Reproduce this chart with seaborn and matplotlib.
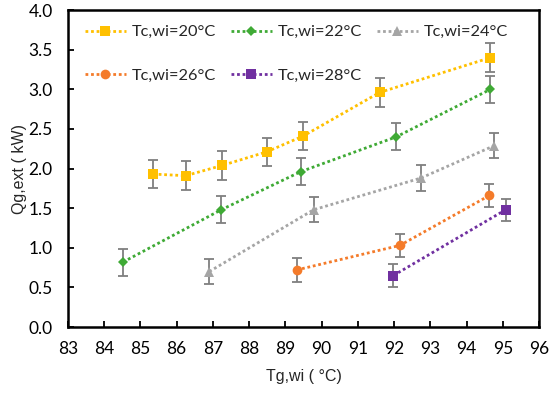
import numpy as np
import pandas as pd
import matplotlib
matplotlib.use("Agg")
import matplotlib.pyplot as plt
import seaborn as sns

# data
labels = ["Tc,wi=20°C", "Tc,wi=22°C", "Tc,wi=24°C", "Tc,wi=26°C", "Tc,wi=28°C"]

tg_20 = [85.35, 86.25, 87.26, 88.48, 89.49, 91.60, 94.66]
qg_20 = [1.93, 1.91, 2.04, 2.21, 2.41, 2.96, 3.40]
tg_22 = [84.52, 87.23, 89.42, 92.06, 94.66]
qg_22 = [0.82, 1.48, 1.96, 2.40, 3.00]
tg_24 = [86.90, 89.78, 92.74, 94.77]
qg_24 = [0.70, 1.48, 1.88, 2.29]
tg_26 = [89.31, 92.16, 94.63]
qg_26 = [0.72, 1.03, 1.66]
tg_28 = [91.98, 95.08]
qg_28 = [0.65, 1.48]
err = [0.18, 0.17, 0.16, 0.15, 0.14]

xticks = list(range(83, 97))
yticks = [0.0, 0.5, 1.0, 1.5, 2.0, 2.5, 3.0, 3.5, 4.0]

colors = ["#FFC000", "#3FAA35", "#A5A5A5", "#F47B2A", "#7030A0"]
markers = ["s", "D", "^", "o", "s"]
msizes = [7, 5, 7, 7, 7]

series = [(tg_20, qg_20), (tg_22, qg_22), (tg_24, qg_24), (tg_26, qg_26), (tg_28, qg_28)]

sns.set_style("white")
plt.rcParams["font.family"] = ["Lato", "DejaVu Sans"]

fig = plt.figure(figsize=(5.5, 3.94), dpi=100)
ax = fig.add_axes([0.1236, 0.170, 0.8564, 0.8044])

for i, (x, y) in enumerate(series):
    df = pd.DataFrame({"x": x, "y": y})
    ax.errorbar(df["x"], df["y"], yerr=err[i], fmt="none", ecolor="#7F7F7F",
                elinewidth=1.3, capsize=3.5, capthick=1.3, zorder=2)
    sns.lineplot(data=df, x="x", y="y", ax=ax, color=colors[i], marker=markers[i],
                 markersize=msizes[i], markeredgewidth=0, linestyle=(0, (1, 1)),
                 linewidth=2, zorder=3, sort=False, label=labels[i])

h, l = ax.get_legend_handles_labels()
order = [0, 3, 1, 4, 2]
ax.legend([h[k] for k in order], [l[k] for k in order], ncol=3, frameon=False,
          loc="upper left", bbox_to_anchor=(0.008, 0.995), fontsize=11.8,
          handlelength=2.5, handletextpad=0.36, columnspacing=0.9,
          labelspacing=1.8, borderaxespad=0.4)

ax.set_xlim(83, 96)
ax.set_ylim(0, 4)
ax.set_xticks(xticks)
ax.set_yticks(yticks)
ax.set_yticklabels([f"{v:.1f}" for v in yticks])
ax.tick_params(axis="both", direction="in", length=4, width=1.3, labelsize=12.5,
               colors="black", left=True, bottom=True)
ax.tick_params(axis="x", pad=10)
ax.tick_params(axis="y", pad=11)
for s in ax.spines.values():
    s.set_color("black")
    s.set_linewidth(1.8)

ax.set_xlabel("Tg,wi ( °C)", fontsize=11.5, family="Liberation Sans", labelpad=9)
ax.set_ylabel("Qg,ext ( kW)", fontsize=11.5, family="Liberation Sans", labelpad=1)

fig.savefig("out.png", dpi=100)
